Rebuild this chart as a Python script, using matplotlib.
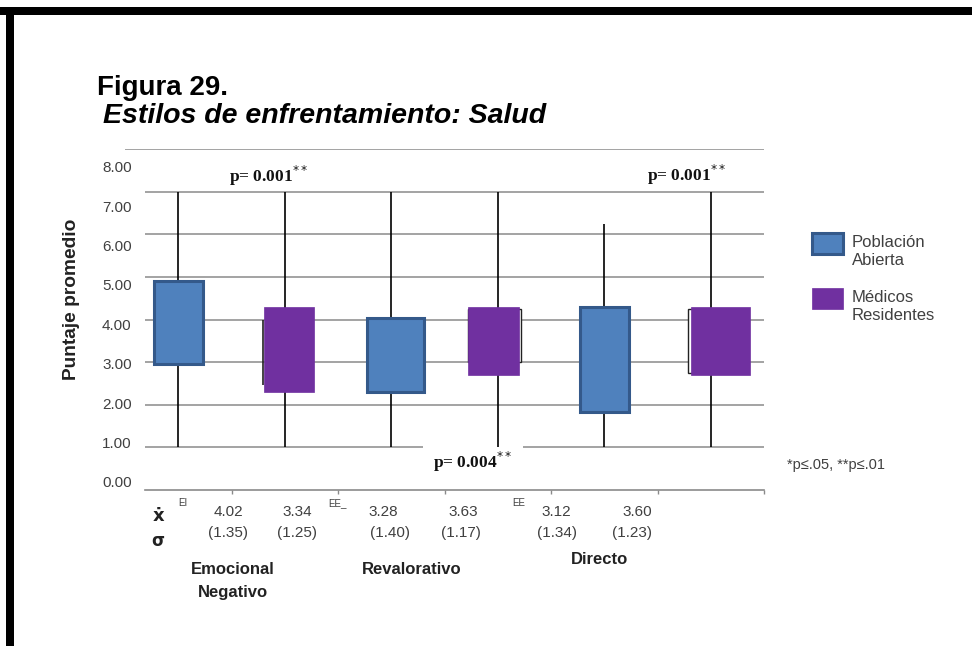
import matplotlib.pyplot as plt
import matplotlib.patches as mpatches

# --- data
groups = ["Emocional\nNegativo", "Revalorativo", "Directo"]
series = ["Población\nAbierta", "Médicos\nResidentes"]
box_low = [2.95, 2.29, 2.31, 2.70, 1.82, 2.70]
box_high = [4.91, 4.30, 4.05, 4.30, 4.29, 4.30]
whisk_low = [1.0, 1.0, 1.0, 1.0, 1.0, 1.0]
whisk_high = [7.0, 7.0, 7.0, 7.0, 6.24, 7.0]
means = ["4.02", "3.34", "3.28", "3.63", "3.12", "3.60"]
sds = ["(1.35)", "(1.25)", "(1.40)", "(1.17)", "(1.34)", "(1.23)"]
pvalues = ["0.001", "0.004", "0.001"]
ytick_labels = ["0.00", "1.00", "2.00", "3.00", "4.00", "5.00", "6.00", "7.00", "8.00"]
trunc_labels = ["EI", "EE_", "EE"]

# leftover outlines of boxes hidden behind the purple ones
ghost_low = [2.47, 3.0, 2.74]
ghost_high = [4.0, 4.24, 4.24]

# --- layout
blue, blue_edge, purple = "#4f81bd", "#34598a", "#7030a0"
grid_c = "#8a8a8a"
txt_c = "#404040"
box_x = [0.50, 1.54, 2.54, 3.46, 4.50, 5.59]
box_w = [0.46, 0.47, 0.54, 0.47, 0.46, 0.55]
whisk_x = [0.5, 1.5, 2.5, 3.5, 4.5, 5.5]

fig = plt.figure(figsize=(9.72, 6.46), dpi=100)
ax = fig.add_axes([125 / 972, 1 - 490 / 646, 639 / 972, 340.7 / 646])
ax.set_xlim(0, 6)
ax.set_ylim(0, 8)
for s in ["top", "right", "left"]:
    ax.spines[s].set_visible(False)
ax.spines["bottom"].set_bounds(0.19, 6)
ax.spines["bottom"].set_color(grid_c)
ax.spines["bottom"].set_linewidth(1.2)

# grid lines (drawn by hand, the 1.00 line is broken under the p label)
ax.hlines([2, 3, 4, 5, 6, 7], 0.19, 6, color=grid_c, lw=1.1, zorder=1)
ax.hlines(8, 0, 6, color=grid_c, lw=1.1, zorder=1)
ax.hlines([1, 1], [0.19, 3.74], [2.80, 6], color=grid_c, lw=1.1, zorder=1)

# whiskers
ax.vlines(whisk_x, whisk_low, whisk_high, color="black", lw=1.2, zorder=2)

colors = [blue, purple] * 3
edges = [blue_edge, purple] * 3
lws = [2.2, 0.5] * 3
for i in range(6):
    ax.add_patch(mpatches.Rectangle((box_x[i] - box_w[i] / 2, box_low[i]), box_w[i], box_high[i] - box_low[i],
                                    facecolor=colors[i], edgecolor=edges[i], lw=lws[i], zorder=4))

# ghost outlines
ax.vlines(box_x[1] - box_w[1] / 2 - 0.01, ghost_low[0], ghost_high[0], color="#222222", lw=1.2, zorder=3)
ax.add_patch(mpatches.Rectangle((box_x[3] - box_w[3] / 2, ghost_low[1]), box_w[3] + 0.02, ghost_high[1] - ghost_low[1],
                                facecolor="white", edgecolor="#222222", lw=1.0, zorder=3))
ax.add_patch(mpatches.Rectangle((box_x[5] - box_w[5] / 2 - 0.03, ghost_low[2]), box_w[5], ghost_high[2] - ghost_low[2],
                                facecolor="white", edgecolor="#222222", lw=1.0, zorder=3))

# y labels (offset from the grid as in the original figure)
label_pos = [0.19 + 0.925 * k for k in range(9)]
ax.set_yticks(label_pos, ytick_labels)
ax.tick_params(axis="y", length=0, pad=-4.8, labelsize=11, labelcolor=txt_c)
for t in ax.get_yticklabels():
    t.set_fontfamily("Liberation Sans")
ax.set_xticks([1, 2, 3, 4, 5, 6], [""] * 6)
ax.tick_params(axis="x", length=3, width=1, color=grid_c, direction="out")

fig.text(72 / 972, 1 - 299 / 646, "Puntaje promedio", rotation=90, ha="center", va="center",
         fontsize=13.8, fontweight="bold", family="Liberation Sans", color="#222222")

# p values
p_pos = [(1.35, 7.38), (3.26, 0.66), (5.27, 7.40)]
for (px, py), p in zip(p_pos, pvalues):
    ax.text(px, py, "p= " + p + "$^{**}$", ha="center", va="center", fontsize=12.5, fontweight="bold",
            family="Liberation Serif", color="#111111", clip_on=False)

# means / sd under the axis
mean_x = [228, 297, 383, 463, 556, 637]
sd_x = [228, 297, 390, 461, 557, 632]
for i in range(6):
    fig.text(mean_x[i] / 972, 1 - 512 / 646, means[i], ha="center", va="center", fontsize=11,
             family="Liberation Sans", color=txt_c)
    fig.text(sd_x[i] / 972, 1 - 533 / 646, sds[i], ha="center", va="center", fontsize=11,
             family="Liberation Sans", color=txt_c)
for tx, lab in zip([178, 328, 512], trunc_labels):
    fig.text(tx / 972, 1 - 503 / 646, lab, ha="left", va="center", fontsize=7, family="Liberation Sans", color=txt_c)
fig.text(158 / 972, 1 - 516 / 646, "ẋ", ha="center", va="center", fontsize=13, fontweight="bold",
         family="DejaVu Sans", color="#222222")
fig.text(158 / 972, 1 - 541 / 646, "σ", ha="center", va="center", fontsize=12, fontweight="bold",
         family="DejaVu Sans", color="#222222")

# group names
grp_xy = [(233, 581), (412, 570), (599, 560)]
for (gx, gy), g in zip(grp_xy, groups):
    fig.text(gx / 972, 1 - gy / 646, g, ha="center", va="center", fontsize=12, fontweight="bold",
             family="Liberation Sans", color="#222222", linespacing=1.6)

# legend
leg_y = [243.5, 298.5]
leg_txt_y = [251.5, 306.5]
for (fc, ec, lw), name, ly, ty in zip([(blue, blue_edge, 2.2), (purple, purple, 0.5)], series, leg_y, leg_txt_y):
    fig.patches.append(mpatches.Rectangle((812 / 972, 1 - (ly + 10.5) / 646), 31 / 972, 21 / 646,
                                          facecolor=fc, edgecolor=ec, lw=lw, transform=fig.transFigure))
    fig.text(852 / 972, 1 - ty / 646, name, ha="left", va="center", fontsize=12, family="Liberation Sans",
             color=txt_c, linespacing=1.3)
fig.text(787 / 972, 1 - 465 / 646, "*p≤.05, **p≤.01", ha="left", va="center", fontsize=10.5,
         family="Liberation Sans", color=txt_c)

# titles
fig.text(97 / 972, 1 - 95 / 646, "Figura 29.", ha="left", va="baseline", fontsize=20, fontweight="bold",
         family="Liberation Sans", color="black")
fig.text(103 / 972, 1 - 123 / 646, "Estilos de enfrentamiento: Salud", ha="left", va="baseline", fontsize=20.5,
         fontweight="bold", fontstyle="italic", family="Liberation Sans", color="black")

# black frame at top and left
fig.patches.append(mpatches.Rectangle((0, 1 - 15 / 646), 1, 8 / 646, facecolor="black", edgecolor="none",
                                      transform=fig.transFigure))
fig.patches.append(mpatches.Rectangle((6 / 972, 0), 8 / 972, 1 - 7 / 646, facecolor="black", edgecolor="none",
                                      transform=fig.transFigure))

fig.savefig("out.png", dpi=100)
plt.close()
